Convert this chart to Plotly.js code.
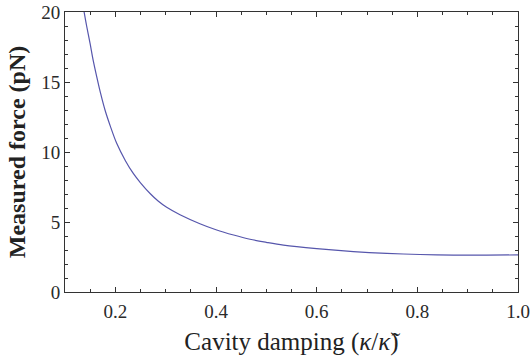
<!DOCTYPE html>
<html>
<head>
<meta charset="utf-8">
<script src="https://cdn.plot.ly/plotly-3.0.1.min.js"></script>
<style>html,body{margin:0;padding:0;background:#fff;}#chart{width:531px;height:360px;}</style>
</head>
<body>
<div id="chart"></div>
<script>
// Cavity damping (kappa / kappa-tilde)
const dampingValues = [0.1365, 0.143, 0.1497, 0.156, 0.163, 0.171, 0.1795, 0.190, 0.2027, 0.220, 0.236, 0.250, 0.270, 0.285, 0.302, 0.3285, 0.368, 0.400, 0.435, 0.4675, 0.500, 0.534, 0.600, 0.673, 0.739, 0.805, 0.872, 0.938, 1.000];
// Measured force (pN)
const forceValues   = [20.3, 19.0, 17.78, 16.55, 15.39, 14.15, 13.0, 11.85, 10.62, 9.38, 8.45, 7.80, 7.00, 6.50, 6.05, 5.52, 4.88, 4.45, 4.07, 3.77, 3.55, 3.35, 3.10, 2.89, 2.76, 2.68, 2.64, 2.63, 2.65];

const xTickVals = [0.2, 0.4, 0.6, 0.8, 1.0];
const xTickText = ["0.2", "0.4", "0.6", "0.8", "1.0"];
const yTickVals = [0, 5, 10, 15, 20];
const yTickText = ["0", "5", "10", "15", "20"];

const serif = "Liberation Serif, Times New Roman, serif";
const axisCommon = {
  showline: true, linecolor: '#333', linewidth: 1, mirror: 'allticks',
  ticks: 'inside', ticklen: 5, tickwidth: 1, tickcolor: '#333',
  showgrid: false, zeroline: false,
  tickfont: {family: serif, size: 19, color: '#2a2a2a'}
};

const trace = {
  x: dampingValues, y: forceValues, type: 'scatter', mode: 'lines',
  line: {color: '#5656ac', width: 1.2, shape: 'spline', smoothing: 0.9},
  hoverinfo: 'skip'
};

const layout = {
  width: 531, height: 360,
  margin: {l: 65, r: 13, t: 12, b: 68},
  paper_bgcolor: '#fff', plot_bgcolor: '#fff',
  showlegend: false,
  xaxis: Object.assign({}, axisCommon, {
    range: [0.1, 1.0], tickvals: xTickVals, ticktext: xTickText, ticklabelstandoff: 2,
    minor: {dtick: 0.05, tick0: 0.1, ticks: 'inside', ticklen: 3, tickwidth: 1, tickcolor: '#333', showgrid: false},
    title: {text: 'Cavity damping (<i>κ</i>/<i>κ̃</i>)', font: {family: serif, size: 25, color: '#222'}, standoff: 11}
  }),
  yaxis: Object.assign({}, axisCommon, {
    range: [0, 20], tickvals: yTickVals, ticktext: yTickText,
    minor: {dtick: 1, tick0: 0, ticks: 'inside', ticklen: 3, tickwidth: 1, tickcolor: '#333', showgrid: false},
    title: {text: '<b>Measured force (pN)</b>', font: {family: serif, size: 24, color: '#222'}, standoff: 8}
  })
};

Plotly.newPlot('chart', [trace], layout, {staticPlot: true, displayModeBar: false});
</script>
</body>
</html>
